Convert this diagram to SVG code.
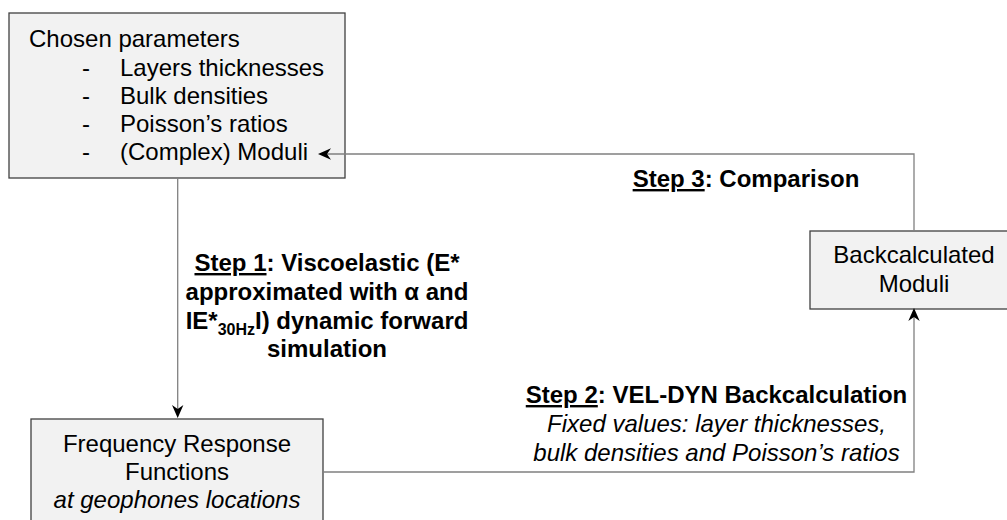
<svg xmlns="http://www.w3.org/2000/svg" width="1007" height="520" viewBox="0 0 1007 520">
<style>
.box{fill:#f2f2f2;stroke:#404040;stroke-width:1.3}
.t{font-family:"Liberation Sans",Arial,sans-serif;font-size:24px;fill:#000}
.b{font-weight:bold}
.i{font-style:italic}
.c{text-anchor:middle}
.line{fill:none;stroke:#808080;stroke-width:1.3}
.head{fill:#000;stroke:none}
</style>
<rect width="1007" height="520" fill="#fff"/>
<g id="chosen">
<rect class="box" x="9" y="13" width="336" height="165"/>
<text class="t" x="29" y="47">Chosen parameters</text>
<text class="t" x="82" y="76">-</text><text class="t" x="120" y="76">Layers thicknesses</text>
<text class="t" x="82" y="104">-</text><text class="t" x="120" y="104">Bulk densities</text>
<text class="t" x="82" y="132">-</text><text class="t" x="120" y="132">Poisson’s ratios</text>
<text class="t" x="82" y="160">-</text><text class="t" x="120" y="160">(Complex) Moduli</text>
</g>
<g id="frf">
<rect class="box" x="31" y="419" width="292" height="120"/>
<text class="t c" x="177" y="452">Frequency Response</text>
<text class="t c" x="177" y="480">Functions</text>
<text class="t c i" x="177" y="508">at geophones locations</text>
</g>
<g id="backcalc">
<rect class="box" x="810" y="231" width="210" height="78"/>
<text class="t c" x="914" y="263">Backcalculated</text>
<text class="t c" x="914" y="292">Moduli</text>
</g>
<g id="connectors">
<path class="line" d="M177.7,178 V410"/>
<path class="head" d="M177.7,418 L172,405 L177.7,409 L183.4,405 Z"/>
<path class="line" d="M323,472 H914 V316"/>
<path class="head" d="M914,308 L908.3,321 L914,317 L919.7,321 Z"/>
<path class="line" d="M914,231 V154 H326"/>
<path class="head" d="M318,154 L331,148.3 L327,154 L331,159.7 Z"/>
</g>
<g id="labels">
<text class="t b c" x="327" y="271"><tspan text-decoration="underline">Step 1</tspan>: Viscoelastic (E*</text>
<text class="t b c" x="327" y="300">approximated with α and</text>
<text class="t b c" x="327" y="329">IE*<tspan font-size="16" dy="6">30Hz</tspan><tspan dy="-6">I) dynamic forward</tspan></text>
<text class="t b c" x="327" y="357">simulation</text>
<text class="t b c" x="746" y="187"><tspan text-decoration="underline">Step 3</tspan>: Comparison</text>
<text class="t b c" x="716.5" y="403"><tspan text-decoration="underline">Step 2</tspan>: VEL-DYN Backcalculation</text>
<text class="t i c" x="716.5" y="432">Fixed values: layer thicknesses,</text>
<text class="t i c" x="716.5" y="461">bulk densities and Poisson’s ratios</text>
</g>
</svg>
